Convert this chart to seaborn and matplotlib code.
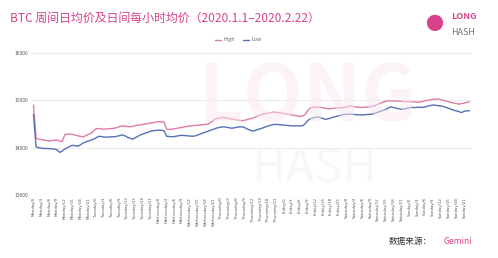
import numpy as np
import pandas as pd
import matplotlib
matplotlib.use("Agg")
import matplotlib.pyplot as plt
import seaborn as sns

days = ["Monday", "Tuesday", "Wednesday", "Thursday", "Friday", "Saturday", "Sunday"]
hours = list(range(24))
tick_step = 3

high = [
    14900, 14200, 14180, 14170, 14160, 14150, 14140, 14150, 14160, 14160, 14140, 14130,
    14275, 14285, 14290, 14280, 14265, 14250, 14240, 14230, 14250, 14280, 14300, 14350,
    14400, 14405, 14395, 14390, 14395, 14400, 14405, 14410, 14425, 14445, 14460, 14455,
    14445, 14440, 14450, 14465, 14475, 14480, 14490, 14500, 14510, 14520, 14530, 14540,
    14550, 14545, 14540, 14390, 14385, 14390, 14400, 14410, 14420, 14430, 14440, 14450,
    14460, 14465, 14470, 14475, 14480, 14485, 14490, 14500, 14540, 14580, 14610, 14625,
    14635, 14640, 14625, 14615, 14605, 14595, 14585, 14575, 14570, 14580, 14595, 14610,
    14620, 14645, 14670, 14690, 14710, 14720, 14730, 14740, 14750, 14745, 14740, 14730,
    14720, 14710, 14700, 14690, 14680, 14670, 14660, 14665, 14700, 14780, 14840, 14850,
    14855, 14860, 14850, 14840, 14830, 14820, 14825, 14830, 14835, 14840, 14845, 14850,
    14860, 14880, 14875, 14865, 14855, 14850, 14850, 14855, 14860, 14860, 14875, 14895,
    14920, 14940, 14960, 14980, 14990, 14990, 14985, 14985, 14980, 14978, 14975, 14972,
    14970, 14968, 14965, 14962, 14960, 14975, 14990, 15000, 15010, 15020, 15025, 15030,
    15015, 15000, 14985, 14970, 14955, 14940, 14930, 14920, 14930, 14940, 14955, 14970,
]

low = [
    14700, 14015, 14000, 13990, 13980, 13985, 13980, 13975, 13970, 13960, 13900, 13930,
    13970, 14000, 14030, 14050, 14040, 14030, 14060, 14100, 14120, 14140, 14160, 14180,
    14210, 14240, 14235, 14225, 14220, 14225, 14230, 14230, 14240, 14255, 14270, 14250,
    14220, 14200, 14180, 14210, 14240, 14270, 14290, 14310, 14330, 14350, 14360, 14365,
    14370, 14365, 14360, 14240, 14235, 14230, 14235, 14245, 14255, 14260, 14255, 14250,
    14245, 14240, 14250, 14270, 14290, 14310, 14330, 14350, 14370, 14390, 14410, 14425,
    14435, 14440, 14430, 14420, 14410, 14420, 14430, 14440, 14440, 14420, 14390, 14370,
    14350, 14365, 14385, 14400, 14420, 14440, 14460, 14475, 14490, 14490, 14485, 14480,
    14475, 14470, 14465, 14460, 14460, 14460, 14460, 14460, 14500, 14570, 14610, 14625,
    14640, 14650, 14630, 14610, 14600, 14610, 14630, 14645, 14660, 14675, 14690, 14700,
    14705, 14710, 14705, 14700, 14695, 14690, 14690, 14695, 14700, 14705, 14710, 14730,
    14750, 14770, 14790, 14810, 14840, 14860, 14845, 14830, 14820, 14810, 14815, 14830,
    14845, 14850, 14845, 14850, 14855, 14850, 14860, 14875, 14890, 14900, 14895, 14885,
    14880, 14870, 14850, 14830, 14810, 14790, 14775, 14760, 14740, 14770, 14775, 14780,
]

labels = [f"{d}/{h}" for d in days for h in hours]
n = len(labels)

df = pd.DataFrame({
    "idx": list(range(n)) * 2,
    "value": high + low,
    "series": ["High"] * n + ["Low"] * n,
})

sns.set_theme(style="white")
plt.rcParams["font.family"] = ["Noto Sans CJK SC", "DejaVu Sans"]

pink = "#e07aaa"
blue = "#5570b5"
title_col = "#d8418c"

fig = plt.figure(figsize=(4.98, 2.58), dpi=100)
ax = fig.add_axes([0.062, 0.244, 0.886, 0.551])

# faint watermark (kept inside the plot area, clear of tick labels)
fig.text(0.62, 0.62, "LONG", fontsize=56, color="#fbe9f1", alpha=0.5,
         ha="center", va="center", fontweight="bold", zorder=0)
fig.text(0.63, 0.345, "HASH", fontsize=34, color="#f0f0f4", alpha=0.5,
         ha="center", va="center", zorder=0)

sns.lineplot(data=df, x="idx", y="value", hue="series",
             palette={"High": pink, "Low": blue}, linewidth=1.0, ax=ax, legend=True)

ax.set_ylim(13000, 16000)
ax.set_xlim(-1, n)
ax.set_yticks([13000, 14000, 15000, 16000])
ax.set_yticklabels(["13000", "14000", "15000", "16000"], fontsize=3.5, color="#555555")
ax.set_xticks(list(range(0, n, tick_step)))
ax.set_xticklabels(labels[::tick_step], rotation=90, fontsize=2.8, color="#555555",
                   family="DejaVu Sans")
ax.tick_params(axis="both", length=0, pad=1.5)
ax.set_xlabel("")
ax.set_ylabel("")
ax.grid(axis="y", color="#e6e6e6", linewidth=0.6)
ax.grid(axis="x", visible=False)
for s in ax.spines.values():
    s.set_visible(False)
ax.set_facecolor("none")

leg = ax.legend(loc="lower center", bbox_to_anchor=(0.47, 1.04), ncol=2, frameon=False,
                fontsize=3.8, handlelength=1.2, columnspacing=1.5, handletextpad=0.5)
for t in leg.get_texts():
    t.set_color("#666666")

fig.text(0.02, 0.93, "BTC 周间日均价及日间每小时均价（2020.1.1–2020.2.22）",
         fontsize=8.6, color=title_col, ha="left", va="center", fontweight="medium")

# logo
fig.text(0.872, 0.905, "●", fontsize=13, color=title_col, ha="center", va="center")
fig.text(0.905, 0.935, "LONG", fontsize=6.5, color=title_col, fontweight="bold",
         ha="left", va="center")
fig.text(0.905, 0.875, "HASH", fontsize=6.5, color="#777777",
         ha="left", va="center")

fig.text(0.78, 0.065, "数据来源：", fontsize=6.2, color="#333333", ha="left", va="center")
fig.text(0.891, 0.065, "Gemini", fontsize=6.2, color=title_col, ha="left", va="center")

fig.savefig("out.png", dpi=100, facecolor="white")
